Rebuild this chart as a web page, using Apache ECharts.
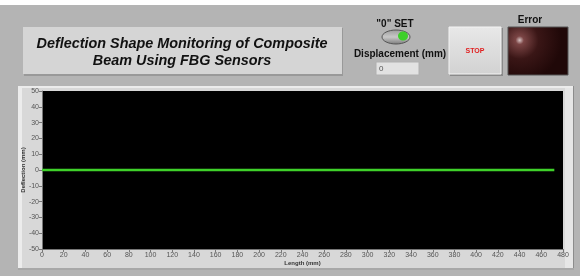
<!DOCTYPE html>
<html>
<head>
<meta charset="utf-8">
<script src="https://cdn.jsdelivr.net/npm/echarts@6/dist/echarts.min.js"></script>
<style>
  html, body { margin: 0; padding: 0; background: #b4b4b4; }
  #main { width: 580px; height: 276px; }
</style>
</head>
<body>
<div id="main"></div>
<script>
// sensor positions along the beam (mm) and measured deflection (mm)
var lengths = [0, 59, 118, 177, 236, 295, 354, 413, 472];
var deflection = [0, 0, 0, 0, 0, 0, 0, 0, 0];
var displacement = '0';

var myChart = echarts.init(document.getElementById('main'));

var font = 'Liberation Sans, Arial, sans-serif';

myChart.setOption({
    backgroundColor: '#b4b4b4',
    animation: false,
    graphic: [
        // white strip along the top
        { type: 'rect', z: -10, shape: { x: 0, y: 0, width: 580, height: 5 }, style: { fill: '#ffffff' } },
        // title panel
        { type: 'rect', z: -9, shape: { x: 24, y: 28, width: 319, height: 48 }, style: { fill: '#999999' } },
        { type: 'rect', z: -8, shape: { x: 23, y: 27, width: 319, height: 47 }, style: { fill: '#d5d5d5' } },
        { type: 'text', style: { x: 182, y: 44, text: 'Deflection Shape Monitoring of Composite', fill: '#111', font: 'italic bold 14.4px ' + font, align: 'center', verticalAlign: 'middle' } },
        { type: 'text', style: { x: 182, y: 61, text: 'Beam Using FBG Sensors', fill: '#111', font: 'italic bold 14.4px ' + font, align: 'center', verticalAlign: 'middle' } },
        // "0" SET toggle
        { type: 'text', style: { x: 395, y: 24, text: '"0" SET', fill: '#111', font: 'bold 10px ' + font, align: 'center', verticalAlign: 'middle' } },
        { type: 'ellipse', shape: { cx: 396, cy: 37, rx: 14, ry: 7 }, style: { fill: new echarts.graphic.LinearGradient(0, 0, 0, 1, [{ offset: 0, color: '#9a9a9a' }, { offset: 0.5, color: '#c8c8c8' }, { offset: 1, color: '#7a7a7a' }]), stroke: '#555', lineWidth: 1 } },
        { type: 'ellipse', shape: { cx: 403, cy: 36, rx: 5, ry: 4.5 }, style: { fill: '#3ecf2a' } },
        // displacement indicator
        { type: 'text', style: { x: 400, y: 54, text: 'Displacement (mm)', fill: '#111', font: 'bold 10px ' + font, align: 'center', verticalAlign: 'middle' } },
        { type: 'rect', shape: { x: 376, y: 62, width: 43, height: 13 }, style: { fill: '#e2e2e2', stroke: '#b0b0b0', lineWidth: 1 } },
        { type: 'text', style: { x: 379, y: 69, text: displacement, fill: '#555', font: '8px ' + font, align: 'left', verticalAlign: 'middle' } },
        // STOP button
        { type: 'rect', shape: { x: 450, y: 28, width: 53, height: 48 }, style: { fill: '#8a8a8a' } },
        { type: 'rect', shape: { x: 449, y: 27, width: 52, height: 47 }, style: { fill: new echarts.graphic.LinearGradient(0, 0, 0, 1, [{ offset: 0, color: '#e8e8e8' }, { offset: 1, color: '#d2d2d2' }]), stroke: '#f4f4f4', lineWidth: 1 } },
        { type: 'text', style: { x: 475, y: 51, text: 'STOP', fill: '#e02020', font: 'bold 7px ' + font, align: 'center', verticalAlign: 'middle' } },
        // Error LED
        { type: 'text', style: { x: 530, y: 20, text: 'Error', fill: '#111', font: 'bold 10px ' + font, align: 'center', verticalAlign: 'middle' } },
        { type: 'rect', shape: { x: 508, y: 27, width: 60, height: 48 }, style: { fill: new echarts.graphic.RadialGradient(0.2, 0.28, 0.85, [{ offset: 0, color: '#d8c4c4' }, { offset: 0.1, color: '#7a4444' }, { offset: 0.45, color: '#3a1616' }, { offset: 1, color: '#200808' }]), stroke: '#555', lineWidth: 1 } },
        // graph panel
        { type: 'rect', z: -9, shape: { x: 18, y: 86, width: 556, height: 184 }, style: { fill: '#d8d8d8' } },
        { type: 'rect', z: -8, shape: { x: 18, y: 86, width: 4, height: 184 }, style: { fill: '#ececec' } },
        { type: 'rect', z: -8, shape: { x: 18, y: 86, width: 556, height: 2 }, style: { fill: '#ececec' } },
        { type: 'rect', z: -8, shape: { x: 565, y: 88, width: 8, height: 182 }, style: { fill: '#e6e6e6' } },
        { type: 'rect', z: -8, shape: { x: 573, y: 86, width: 1, height: 184 }, style: { fill: '#8c8c8c' } },
        { type: 'rect', z: -8, shape: { x: 18, y: 268, width: 556, height: 2 }, style: { fill: '#a8a8a8' } }
    ],
    grid: {
        left: 42,
        right: 17,
        top: 91,
        bottom: 27,
        show: true,
        backgroundColor: '#000000',
        borderWidth: 0
    },
    xAxis: {
        type: 'value',
        min: 0,
        max: 480,
        interval: 20,
        name: 'Length (mm)',
        nameLocation: 'middle',
        nameGap: 11,
        nameMoveOverlap: false,
        nameTextStyle: { color: '#333', fontSize: 6, fontWeight: 'bold', fontFamily: font },
        axisLine: { show: true, onZero: false, lineStyle: { color: '#777' } },
        axisTick: { show: true, length: 3, lineStyle: { color: '#777' } },
        axisLabel: { color: '#555', fontSize: 7, margin: 3, fontFamily: font },
        splitLine: { show: false }
    },
    yAxis: {
        type: 'value',
        min: -50,
        max: 50,
        interval: 10,
        name: 'Deflection (mm)',
        nameLocation: 'middle',
        nameGap: 16,
        nameMoveOverlap: false,
        nameRotate: 90,
        nameTextStyle: { color: '#333', fontSize: 6, fontWeight: 'bold', fontFamily: font },
        axisLine: { show: true, lineStyle: { color: '#777' } },
        axisTick: { show: true, length: 3, lineStyle: { color: '#777' } },
        axisLabel: { color: '#555', fontSize: 7, margin: 3, fontFamily: font },
        splitLine: { show: false }
    },
    series: [
        {
            type: 'line',
            data: lengths.map(function (x, i) { return [x, deflection[i]]; }),
            showSymbol: false,
            lineStyle: { color: '#3fd12a', width: 2.5 }
        }
    ]
});
</script>
</body>
</html>
